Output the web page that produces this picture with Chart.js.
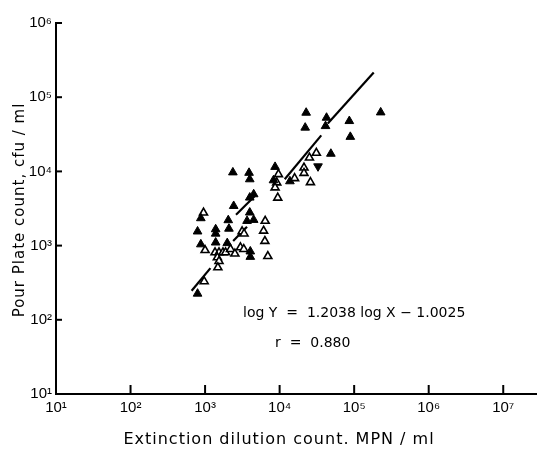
<!DOCTYPE html>
<html lang="en">
<head>
<meta charset="UTF-8">
<title>Pour plate count vs extinction dilution count</title>
<script src="https://cdn.jsdelivr.net/npm/chart.js/dist/chart.umd.min.js"></script>
<style>
  html, body { margin: 0; padding: 0; background: #fff; }
  #wrap { width: 543px; height: 452px; }
</style>
</head>
<body>
<div id="wrap"><canvas id="plateChart"></canvas></div>
<script>
// filled triangles (MPN/ml, cfu/ml)
const filledX = [2360, 3890, 3975, 4487, 3975, 2420, 877, 2046, 3975, 3656, 4487,
  793, 1387, 1387, 2089, 877, 1387, 1983, 4044, 4044, 793,
  8690, 8275, 13740, 22700, 22030, 42600, 41300, 86100, 88800, 227000, 48700];
const filledY = [9700, 9570, 7830, 4920, 4440, 3420, 2340, 2200, 2790, 2150, 2220,
  1550, 1660, 1450, 1690, 1040, 1100, 1080, 834, 705, 225,
  11500, 7590, 7360, 61800, 38900, 52900, 40800, 47700, 29200, 62400, 17300];

// open triangles
const openX = [953, 1000, 1360, 1538, 1738, 1883, 1462, 1538, 1484,
  2193, 2512, 2980, 3306, 3138, 3336, 973,
  6400, 6095, 6340, 6950, 9640, 9150, 8690, 9440,
  15880, 21230, 21230, 31100, 25120, 25900];
const openY = [2770, 867, 808, 808, 808, 808, 692, 617, 507,
  895, 778, 943, 895, 1550, 1450, 329,
  2150, 1580, 1150, 720, 9140, 7070, 6050, 4410,
  8070, 11200, 9480, 17700, 15300, 7130];

// one inverted filled triangle
const invX = [32750];
const invY = [11700];

// regression line, drawn in broken segments as in the figure
const fitStartX = [660, 2380, 2600, 11700, 44300];
const fitStartY = [246, 1157, 2600, 7850, 44300];
const fitEndX = [1180, 3650, 4690, 36200, 183000];
const fitEndY = [497, 1800, 4690, 30600, 215000];

const xTicks = [1e1, 1e2, 1e3, 1e4, 1e5, 1e6, 1e7];
const xTickLabels = ["10\u00B9", "10\u00B2", "10\u00B3", "10\u2074", "10\u2075", "10\u2076", "10\u2077"];
const yTicks = [1e1, 1e2, 1e3, 1e4, 1e5, 1e6];
const yTickLabels = ["10\u00B9", "10\u00B2", "10\u00B3", "10\u2074", "10\u2075", "10\u2076"];

const FONT = '"DejaVu Sans", "Liberation Sans", sans-serif';

function pts(xs, ys) {
  return xs.map((x, i) => ({ x: x, y: ys[i] }));
}

const datasets = [
  {
    label: "filled",
    data: pts(filledX, filledY),
    pointStyle: "triangle",
    pointRadius: 5,
    backgroundColor: "#000",
    borderColor: "#000",
    borderWidth: 1
  },
  {
    label: "open",
    data: pts(openX, openY),
    pointStyle: "triangle",
    pointRadius: 4.6,
    backgroundColor: "#fff",
    borderColor: "#000",
    borderWidth: 1.6
  },
  {
    label: "inverted",
    data: pts(invX, invY),
    pointStyle: "triangle",
    rotation: 180,
    pointRadius: 5,
    backgroundColor: "#000",
    borderColor: "#000",
    borderWidth: 1
  }
];

fitStartX.forEach((x, i) => {
  datasets.push({
    type: "line",
    label: "fit" + i,
    data: [{ x: x, y: fitStartY[i] }, { x: fitEndX[i], y: fitEndY[i] }],
    borderColor: "#000",
    borderWidth: 2.2,
    pointRadius: 0,
    fill: false
  });
});

// inward tick marks, axis titles and the regression text
const extras = {
  id: "extras",
  afterDraw(chart) {
    const ctx = chart.ctx;
    const xs = chart.scales.x, ys = chart.scales.y;
    const area = chart.chartArea;
    ctx.save();
    ctx.strokeStyle = "#000";
    ctx.lineWidth = 2;
    xTicks.slice(1).forEach(v => {
      const px = xs.getPixelForValue(v);
      ctx.beginPath();
      ctx.moveTo(px, area.bottom);
      ctx.lineTo(px, area.bottom - 9);
      ctx.stroke();
    });
    yTicks.slice(1).forEach(v => {
      const py = ys.getPixelForValue(v);
      ctx.beginPath();
      ctx.moveTo(area.left, py);
      ctx.lineTo(area.left + 6, py);
      ctx.stroke();
    });

    ctx.fillStyle = "#000";
    ctx.textBaseline = "middle";
    ctx.textAlign = "center";

    ctx.letterSpacing = "1px";
    ctx.font = "16px " + FONT;
    ctx.fillText("Extinction dilution count. MPN / ml", 279, 440);

    ctx.save();
    ctx.translate(20, 210);
    ctx.rotate(-Math.PI / 2);
    ctx.font = "15px " + FONT;
    ctx.fillText("Pour Plate count, cfu / ml", 0, 0);
    ctx.restore();

    ctx.letterSpacing = "0px";
    ctx.textAlign = "left";
    ctx.font = "14px " + FONT;
    ctx.fillText("log Y  =  1.2038 log X \u2212 1.0025", 243, 313);
    ctx.fillText("r  =  0.880", 275, 343);
    ctx.restore();
  }
};

new Chart(document.getElementById("plateChart").getContext("2d"), {
  type: "scatter",
  data: { datasets: datasets },
  options: {
    responsive: true,
    maintainAspectRatio: false,
    animation: false,
    layout: { padding: { top: 23, right: 0, left: 0, bottom: 0 } },
    plugins: {
      legend: { display: false },
      tooltip: { enabled: false }
    },
    scales: {
      x: {
        type: "logarithmic",
        min: 10,
        max: 2.82e7,
        afterBuildTicks: s => { s.ticks = xTicks.map(v => ({ value: v })); },
        afterFit: s => { s.height = 58; },
        grid: { display: false, drawTicks: false },
        border: { display: true, color: "#000", width: 2 },
        ticks: {
          autoSkip: false,
          maxRotation: 0,
          padding: 5,
          color: "#000",
          font: { family: '"Liberation Sans", Arial, sans-serif', size: 15 },
          callback: (v, i) => xTickLabels[i]
        }
      },
      y: {
        type: "logarithmic",
        min: 10,
        max: 1e6,
        afterBuildTicks: s => { s.ticks = yTicks.map(v => ({ value: v })); },
        afterFit: s => { s.width = 56; },
        grid: { display: false, drawTicks: false },
        border: { display: true, color: "#000", width: 2 },
        ticks: {
          autoSkip: false,
          padding: 4,
          color: "#000",
          font: { family: '"Liberation Sans", Arial, sans-serif', size: 15 },
          callback: (v, i) => yTickLabels[i]
        }
      }
    }
  },
  plugins: [extras]
});
</script>
</body>
</html>
